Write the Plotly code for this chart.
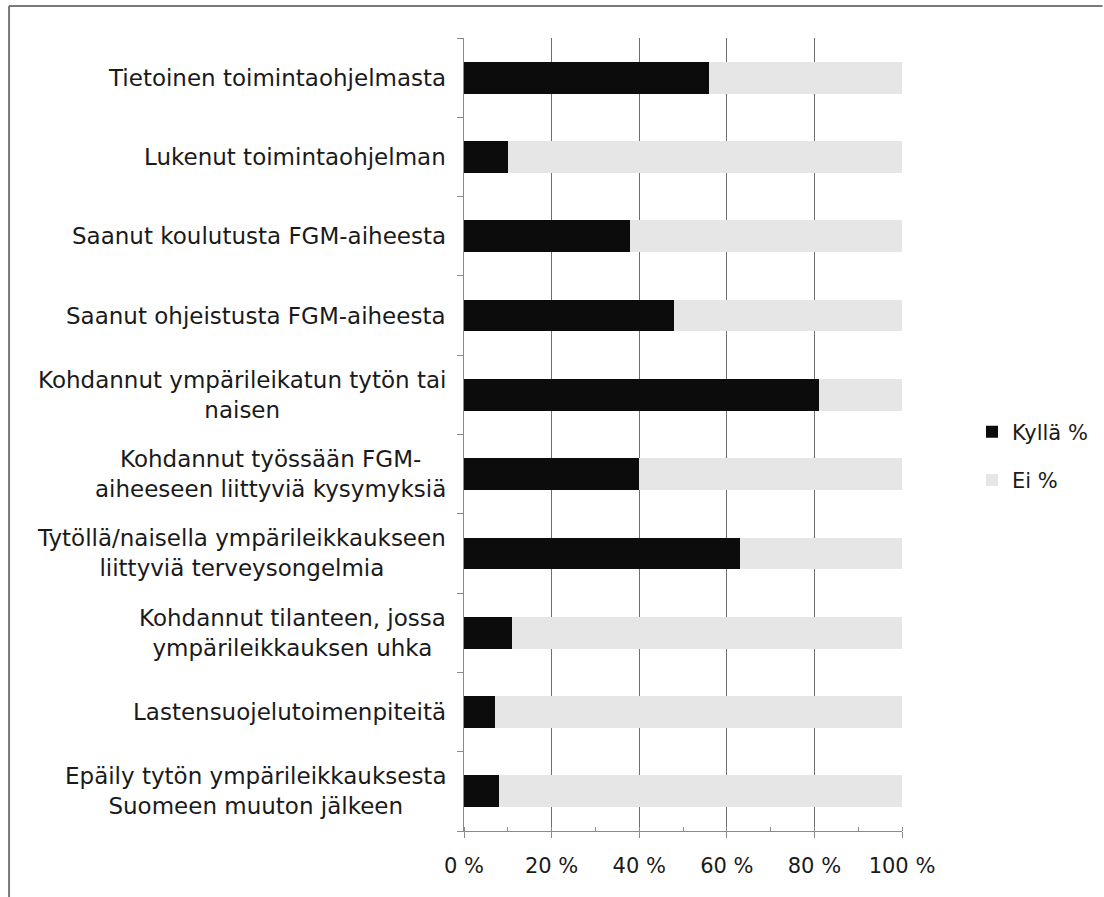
import plotly.graph_objects as go

# Survey items (top to bottom) and share of answers
categories = [
    "Tietoinen toimintaohjelmasta",
    "Lukenut toimintaohjelman",
    "Saanut koulutusta FGM-aiheesta",
    "Saanut ohjeistusta FGM-aiheesta",
    "Kohdannut ympärileikatun tytön tai<br>naisen",
    "Kohdannut työssään FGM-<br>aiheeseen liittyviä kysymyksiä",
    "Tytöllä/naisella ympärileikkaukseen<br>liittyviä terveysongelmia",
    "Kohdannut tilanteen, jossa<br>ympärileikkauksen uhka",
    "Lastensuojelutoimenpiteitä",
    "Epäily tytön ympärileikkauksesta<br>Suomeen muuton jälkeen",
]
kylla = [56, 10, 38, 48, 81, 40, 63, 11, 7, 8]
ei = [100 - v for v in kylla]
x_ticks = [0, 20, 40, 60, 80, 100]
x_tick_labels = ["0 %", "20 %", "40 %", "60 %", "80 %", "100 %"]

# category keys keep the axis free of the multi-line text
keys = [f"c{i}" for i in range(len(categories))]

W, H = 1104, 897
L, R, T, B = 464, 201, 38, 66
FONT = "'DejaVu Sans', sans-serif"

fig = go.Figure()
fig.add_trace(go.Bar(
    y=keys, x=kylla, name="Kyllä %", orientation="h",
    marker=dict(color="#0c0c0c", line=dict(width=0)),
    legendgroup="a",
))
fig.add_trace(go.Bar(
    y=keys, x=ei, name="Ei %", orientation="h",
    marker=dict(color="#e6e6e6", line=dict(width=0)),
    legendgroup="b",
))

# category labels, centred lines, right edge next to the axis
for k, txt in zip(keys, categories):
    fig.add_annotation(
        x=0, xref="paper", y=k, yref="y", text=txt, showarrow=False,
        xanchor="right", yanchor="middle", align="center", xshift=-16,
        font=dict(family=FONT, size=23, color="#1a1a1a"),
    )

# chart frame (left and top edges)
px = lambda p: (p - L) / (W - L - R)
py = lambda p: (H - B - p) / (H - T - B)
fig.add_shape(type="line", xref="paper", yref="paper",
              x0=px(8), x1=px(8), y0=py(6), y1=py(897),
              line=dict(color="#7a7a7a", width=2))
fig.add_shape(type="line", xref="paper", yref="paper",
              x0=px(8), x1=px(1104), y0=py(6), y1=py(6),
              line=dict(color="#7a7a7a", width=2))

fig.update_layout(
    width=W, height=H,
    margin=dict(l=L, r=R, t=T, b=B),
    barmode="stack", bargap=0.6,
    plot_bgcolor="white", paper_bgcolor="white",
    font=dict(family=FONT, color="#1a1a1a"),
    legend=dict(
        x=px(972), xanchor="left", y=py(456), yanchor="middle",
        font=dict(size=21, color="#1a1a1a"),
        traceorder="grouped", tracegroupgap=18,
        itemwidth=30,
    ),
    xaxis=dict(
        range=[0, 100], tickvals=x_ticks, ticktext=x_tick_labels,
        showgrid=True, gridcolor="#6e6e6e", gridwidth=1,
        showline=True, linecolor="#8a8a8a", linewidth=1,
        ticks="outside", ticklen=6, tickcolor="#8a8a8a",
        minor=dict(dtick=10, ticks="inside", ticklen=4, tickcolor="#8a8a8a", showgrid=False),
        tickfont=dict(size=21, color="#1a1a1a"),
        ticklabelstandoff=10,
        zeroline=False, fixedrange=True,
    ),
    yaxis=dict(
        categoryorder="array", categoryarray=keys[::-1],
        showticklabels=False, tickson="boundaries",
        ticks="outside", ticklen=6, tickcolor="#8a8a8a",
        showline=True, linecolor="#8a8a8a", linewidth=1,
        showgrid=False, zeroline=False, fixedrange=True,
    ),
)

fig.write_html("out.html")
